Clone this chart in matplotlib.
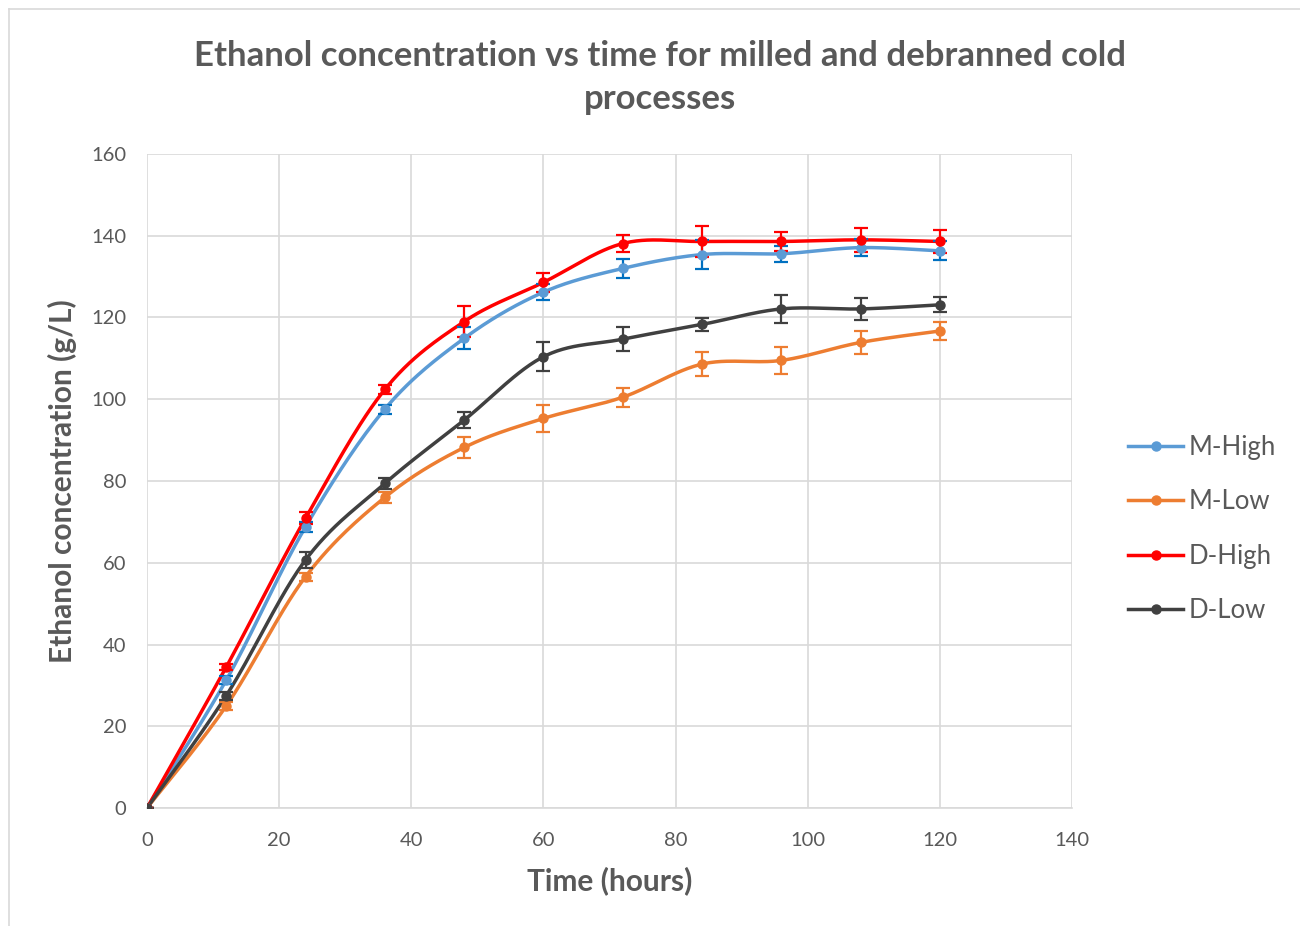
import numpy as np
import matplotlib
matplotlib.use("Agg")
import matplotlib.pyplot as plt
from matplotlib.lines import Line2D

plt.rcParams['font.family'] = ['Lato', 'DejaVu Sans']

time_h = [0, 12, 24, 36, 48, 60, 72, 84, 96, 108, 120]

m_high = [0, 31.3, 68.8, 97.6, 114.9, 126.2, 132.0, 135.4, 135.6, 137.1, 136.3]
m_high_err = [0, 1.0, 1.2, 1.1, 2.7, 2.0, 2.3, 3.5, 2.0, 2.0, 2.3]

m_low = [0, 25.0, 56.6, 76.0, 88.2, 95.3, 100.5, 108.6, 109.5, 113.9, 116.7]
m_low_err = [0, 1.0, 1.0, 1.3, 2.6, 3.4, 2.3, 2.9, 3.3, 2.9, 2.2]

d_high = [0, 34.5, 70.9, 102.4, 119.0, 128.6, 138.1, 138.6, 138.6, 139.0, 138.6]
d_high_err = [0, 0.8, 1.5, 1.0, 3.7, 2.4, 2.1, 3.9, 2.3, 2.9, 2.9]

d_low = [0, 27.5, 60.7, 79.4, 94.9, 110.4, 114.7, 118.3, 122.1, 122.1, 123.1]
d_low_err = [0, 1.0, 2.0, 1.3, 2.0, 3.5, 2.9, 1.6, 3.5, 2.7, 1.8]

series = [
    ("M-High", m_high, m_high_err, "#5B9BD5", "#0070C0"),
    ("M-Low", m_low, m_low_err, "#ED7D31", "#ED7D31"),
    ("D-High", d_high, d_high_err, "#FF0000", "#FF0000"),
    ("D-Low", d_low, d_low_err, "#404040", "#404040"),
]

title = "Ethanol concentration vs time for milled and debranned cold\nprocesses"
x_label = "Time (hours)"
y_label = "Ethanol concentration (g/L)"
x_ticks = [0, 20, 40, 60, 80, 100, 120, 140]
y_ticks = [0, 20, 40, 60, 80, 100, 120, 140, 160]

GRAY = "#595959"
GRID = "#D9D9D9"


def smooth_curve(x, y, n=30):
    """Cubic Bezier smoothing through every point (Catmull-Rom control points)."""
    x = np.asarray(x, float)
    y = np.asarray(y, float)
    pts = np.column_stack([x, y])
    out = [pts[0]]
    for i in range(len(pts) - 1):
        p0 = pts[i - 1] if i > 0 else pts[i]
        p1 = pts[i]
        p2 = pts[i + 1]
        p3 = pts[i + 2] if i + 2 < len(pts) else pts[i + 1]
        c1 = p1 + (p2 - p0) / 6.0
        c2 = p2 - (p3 - p1) / 6.0
        t = np.linspace(0, 1, n)[1:, None]
        seg = ((1 - t) ** 3) * p1 + 3 * ((1 - t) ** 2) * t * c1 \
            + 3 * (1 - t) * t ** 2 * c2 + t ** 3 * p2
        out.extend(seg)
    out = np.array(out)
    return out[:, 0], out[:, 1]


fig = plt.figure(figsize=(13, 9.26), dpi=100)
ax = fig.add_axes([147 / 1300, 118 / 926, 925 / 1300, 654 / 926])

handles = []
for name, vals, errs, color, ecolor in series:
    sx, sy = smooth_curve(time_h, vals)
    ax.plot(sx, sy, color=color, lw=2.5, solid_capstyle='round', zorder=3)
    ax.errorbar(time_h, vals, yerr=errs, fmt='none', ecolor=ecolor,
                elinewidth=1.6, capsize=5, capthick=1.6, zorder=4)
    ax.plot(time_h, vals, 'o', color=color, ms=6.5, zorder=5)
    handles.append(Line2D([0], [0], color=color, lw=2.5, marker='o', ms=6.5))

ax.set_xlim(0, 140)
ax.set_ylim(0, 160)
ax.set_xticks(x_ticks)
ax.set_yticks(y_ticks)
ax.grid(True, color=GRID, lw=1.2)
ax.set_axisbelow(True)
for side in ["top", "right", "left"]:
    ax.spines[side].set_visible(False)
ax.spines["bottom"].set_color(GRID)
ax.spines["bottom"].set_linewidth(1.2)
ax.tick_params(axis='both', length=0, labelsize=14.5, labelcolor=GRAY)
ax.tick_params(axis='x', pad=17)
ax.tick_params(axis='y', pad=15)

ax.set_xlabel(x_label, fontsize=21.5, fontweight='bold', color=GRAY, labelpad=13)
ax.set_ylabel(y_label, fontsize=21.5, fontweight='bold', color=GRAY, labelpad=10)

fig.text(660 / 1300, 1 - 77.5 / 926, title, ha='center', va='center',
         fontsize=25, fontweight='bold', color=GRAY, linespacing=1.42)

fig.legend(handles, [s[0] for s in series], loc='center left',
           bbox_to_anchor=(1128 / 1300, 1 - 529 / 926), frameon=False,
           fontsize=18.5, labelcolor=GRAY, handlelength=2.15, handletextpad=0.2,
           labelspacing=1.15, borderpad=0, borderaxespad=0)

# light outline of the chart area along the left and top edges
fig.add_artist(Line2D([8.5 / 1300, 8.5 / 1300], [0, 1 - 9 / 926],
                      transform=fig.transFigure, color=GRID, lw=1.2))
fig.add_artist(Line2D([8.5 / 1300, 1], [1 - 9 / 926, 1 - 9 / 926],
                      transform=fig.transFigure, color=GRID, lw=1.2))

fig.savefig("out.png", dpi=100, facecolor="white")
